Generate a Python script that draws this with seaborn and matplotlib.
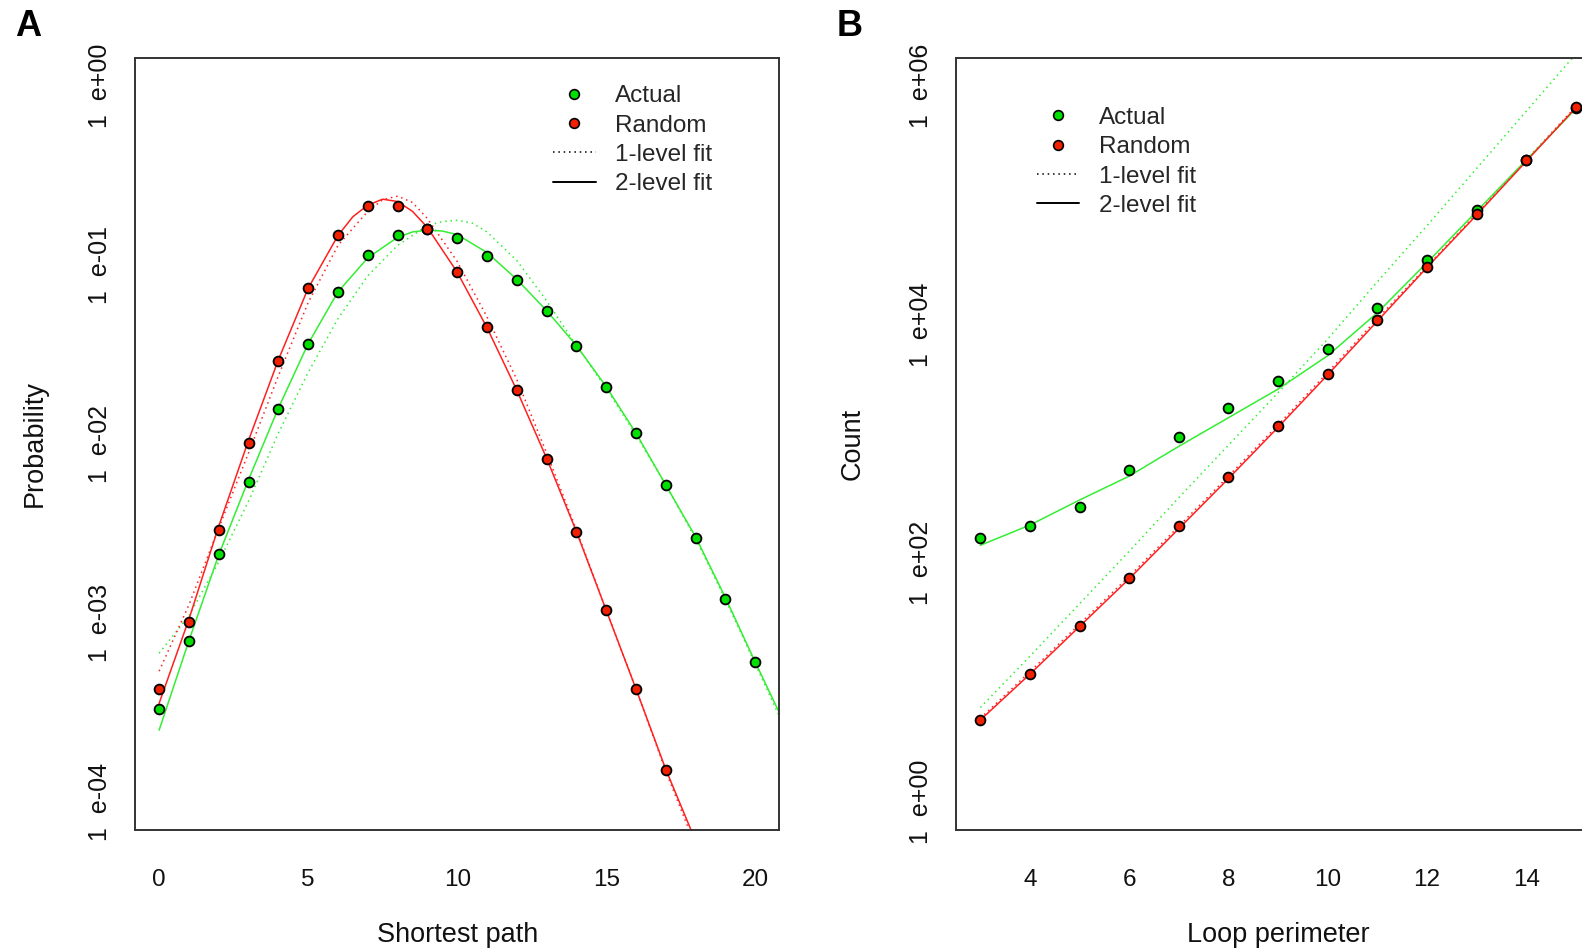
import numpy as np
import pandas as pd
import matplotlib
matplotlib.use("Agg")
import matplotlib.pyplot as plt
from matplotlib.lines import Line2D
from matplotlib.ticker import NullLocator
import seaborn as sns

sns.set_style("white")
plt.rcParams['font.family'] = ['Liberation Sans', 'DejaVu Sans']

# ---------------- data (log10 values) ----------------
# Panel A - shortest path distribution
path_len = list(range(21))
actual_path_log = [-3.479, -3.103, -2.615, -2.212, -1.805, -1.444, -1.148, -0.942, -0.833, -0.800,
                   -0.849, -0.950, -1.083, -1.257, -1.454, -1.682, -1.940, -2.229, -2.523, -2.865, -3.220]
random_path_len = list(range(18))
random_path_log = [-3.372, -2.994, -2.479, -1.996, -1.537, -1.129, -0.833, -0.669, -0.669, -0.799,
                   -1.039, -1.347, -1.696, -2.082, -2.494, -2.930, -3.372, -3.825]

# fitted curves, panel A
green_fit2_x = [0, 1, 2, 3, 4, 5, 6, 7, 8, 8.5, 9, 9.5, 10, 11, 12, 13, 14, 15, 16, 17, 18, 19, 20, 20.8]
green_fit2_y = [-3.60, -3.10, -2.62, -2.20, -1.80, -1.44, -1.15, -0.96, -0.845, -0.815, -0.805, -0.81,
                -0.83, -0.93, -1.08, -1.255, -1.45, -1.68, -1.94, -2.23, -2.52, -2.86, -3.22, -3.50]
green_fit1_x = [0, 1, 2, 3, 4, 5, 6, 7, 8, 9, 9.5, 10, 10.5, 11, 12, 13, 14, 15, 16, 17, 18, 19, 20, 20.8]
green_fit1_y = [-3.17, -2.96, -2.66, -2.32, -1.94, -1.60, -1.30, -1.06, -0.89, -0.78, -0.757, -0.75,
                -0.765, -0.815, -0.975, -1.20, -1.45, -1.69, -1.95, -2.23, -2.53, -2.87, -3.23, -3.52]
red_fit2_x = [0, 1, 2, 3, 4, 5, 6, 6.5, 7, 7.5, 8, 8.5, 9, 10, 11, 12, 13, 14, 15, 16, 17, 18]
red_fit2_y = [-3.45, -2.98, -2.46, -1.98, -1.53, -1.13, -0.835, -0.73, -0.665, -0.632, -0.645, -0.70,
              -0.79, -1.04, -1.35, -1.70, -2.08, -2.49, -2.93, -3.37, -3.82, -4.22]
red_fit1_x = [0, 1, 2, 3, 4, 5, 6, 7, 7.5, 8, 8.5, 9, 10, 11, 12, 13, 14, 15, 16, 17, 18]
red_fit1_y = [-3.27, -2.90, -2.47, -2.05, -1.62, -1.21, -0.89, -0.70, -0.635, -0.615, -0.65, -0.74,
              -0.98, -1.29, -1.64, -2.05, -2.48, -2.93, -3.37, -3.83, -4.25]

# Panel B - loop perimeter counts
perimeter = list(range(3, 16))
actual_loop_log = [2.21, 2.31, 2.47, 2.78, 3.055, 3.30, 3.53, 3.797, 4.136, 4.54, 4.96, 5.38, 5.82]
random_loop_log = [0.685, 1.074, 1.477, 1.875, 2.31, 2.725, 3.15, 3.59, 4.037, 4.485, 4.926, 5.38, 5.825]
green_loop_fit2 = [2.15, 2.32, 2.53, 2.73, 2.98, 3.22, 3.46, 3.74, 4.10, 4.52, 4.95, 5.38, 5.81]
green_loop_fit1 = [0.79, 1.22, 1.66, 2.10, 2.55, 2.99, 3.43, 3.88, 4.36, 4.83, 5.31, 5.79, 6.27]
red_loop_fit2 = [0.685, 1.07, 1.47, 1.87, 2.29, 2.71, 3.14, 3.58, 4.03, 4.48, 4.92, 5.37, 5.82]
red_loop_fit1 = [0.70, 1.09, 1.49, 1.89, 2.31, 2.73, 3.16, 3.60, 4.05, 4.49, 4.93, 5.38, 5.83]

GREEN_PT = '#00e000'
RED_PT = '#f02000'
GREEN_LN = '#33ee33'
RED_LN = '#ff2020'
DOT = (0, (1, 2.5))
TXT = '#111111'


def pw(v):
    return np.power(10.0, np.array(v, dtype=float))


def draw_line(ax, x, y, color, ls):
    sns.lineplot(x=x, y=pw(y), color=color, linestyle=ls, linewidth=1.1,
                 sort=False, estimator=None, ax=ax, zorder=2)


def draw_points(ax, x, y, color):
    sns.scatterplot(x=x, y=pw(y), color=color, edgecolor='black', linewidth=1.3,
                    s=50, ax=ax, zorder=4)


def style_axes(ax):
    for sp in ax.spines.values():
        sp.set_visible(True)
        sp.set_color('#333333')
        sp.set_linewidth(1.4)
    ax.tick_params(axis='both', direction='out', length=9, width=1.3, color='#333333',
                   labelsize=17.5, labelcolor=TXT)
    ax.tick_params(axis='x', pad=19)
    ax.tick_params(axis='y', pad=8, labelsize=18)
    ax.yaxis.set_minor_locator(NullLocator())
    ax.grid(False)


def add_legend(ax, anchor):
    handles = [
        Line2D([], [], ls='none', marker='o', markersize=7, markerfacecolor=GREEN_PT,
               markeredgecolor='black', markeredgewidth=1.2),
        Line2D([], [], ls='none', marker='o', markersize=7, markerfacecolor=RED_PT,
               markeredgecolor='black', markeredgewidth=1.2),
        Line2D([], [], color='black', linestyle=DOT, linewidth=1.1),
        Line2D([], [], color='black', linewidth=1.4),
    ]
    ax.legend(handles, ['Actual', 'Random', '1-level fit', '2-level fit'],
              loc='upper left', bbox_to_anchor=anchor, frameon=False, fontsize=17.5,
              handlelength=1.75, handletextpad=0.8, labelspacing=0.3, borderpad=0,
              borderaxespad=0)


fig = plt.figure(figsize=(15.82, 9.49), dpi=100)
axA = fig.add_axes([0.0855, 0.125, 0.407, 0.8144])
axB = fig.add_axes([0.6046, 0.125, 0.4066, 0.8144])

# ---------------- panel A ----------------
draw_line(axA, green_fit1_x, green_fit1_y, GREEN_LN, DOT)
draw_line(axA, red_fit1_x, red_fit1_y, RED_LN, DOT)
draw_line(axA, green_fit2_x, green_fit2_y, GREEN_LN, '-')
draw_line(axA, red_fit2_x, red_fit2_y, RED_LN, '-')
draw_points(axA, path_len, actual_path_log, GREEN_PT)
draw_points(axA, random_path_len, random_path_log, RED_PT)
axA.set_yscale('log')
axA.set_xlim(-0.8, 20.8)
axA.set_ylim(10 ** -4.16, 10 ** 0.16)
axA.set_xticks([0, 5, 10, 15, 20])
axA.set_yticks([1, 1e-1, 1e-2, 1e-3, 1e-4])
axA.set_yticklabels(['1  e+00', '1  e-01', '1  e-02', '1  e-03', '1  e-04'], rotation=90, va='center')
style_axes(axA)
axA.set_xlabel('Shortest path', fontsize=19.5, color=TXT)
axA.set_ylabel('Probability', fontsize=19.5, color=TXT)
axA.xaxis.set_label_coords(0.5, -0.118)
axA.yaxis.set_label_coords(-0.136, 0.5)
add_legend(axA, (0.649, 0.964))

# ---------------- panel B ----------------
draw_line(axB, perimeter, green_loop_fit1, GREEN_LN, DOT)
draw_line(axB, perimeter, red_loop_fit1, RED_LN, DOT)
draw_line(axB, perimeter, green_loop_fit2, GREEN_LN, '-')
draw_line(axB, perimeter, red_loop_fit2, RED_LN, '-')
draw_points(axB, perimeter, actual_loop_log, GREEN_PT)
draw_points(axB, perimeter, random_loop_log, RED_PT)
axB.set_yscale('log')
axB.set_xlim(2.52, 15.48)
axB.set_ylim(10 ** -0.24, 10 ** 6.24)
axB.set_xticks([4, 6, 8, 10, 12, 14])
axB.set_yticks([1, 1e2, 1e4, 1e6])
axB.set_yticklabels(['1  e+00', '1  e+02', '1  e+04', '1  e+06'], rotation=90, va='center')
style_axes(axB)
axB.set_xlabel('Loop perimeter', fontsize=19.5, color=TXT)
axB.set_ylabel('Count', fontsize=19.5, color=TXT)
axB.xaxis.set_label_coords(0.5, -0.118)
axB.yaxis.set_label_coords(-0.141, 0.5)
add_legend(axB, (0.125, 0.936))

fig.text(0.0179, 0.972, 'A', fontsize=26, fontweight='bold', ha='center', va='center', color='black')
fig.text(0.5369, 0.972, 'B', fontsize=26, fontweight='bold', ha='center', va='center', color='black')

fig.savefig('out.png', dpi=100)
